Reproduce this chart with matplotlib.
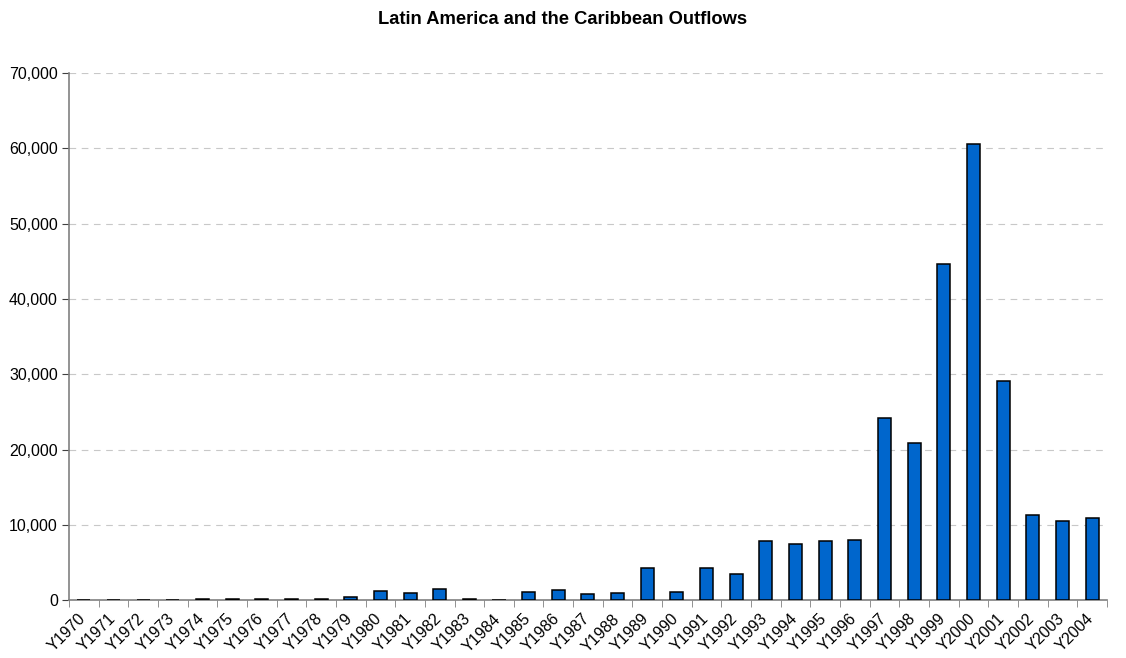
import numpy as np
import matplotlib.pyplot as plt
import matplotlib.transforms as mtransforms
from matplotlib.ticker import FuncFormatter, MultipleLocator, FixedLocator

plt.rcParams['font.family'] = ['Liberation Sans', 'DejaVu Sans']

# outflows by year
years = [f"Y{y}" for y in range(1970, 2005)]
outflows = [20, 0, 50, 20, 100, 200, 200, 200, 200, 350,
            1200, 900, 1450, 100, 50, 1100, 1300, 800, 900, 4250,
            1100, 4200, 3400, 7800, 7400, 7800, 8000, 24200, 20900, 44600,
            60600, 29100, 11300, 10500, 10900]

fig = plt.figure(figsize=(11.26, 6.58), dpi=100, facecolor="white")
ax = fig.add_axes([0.0613, 0.088, 0.9217, 0.801])

x = np.arange(len(years))
ax.bar(x, outflows, width=0.44, color="#0066CC", edgecolor="black", linewidth=1.1, zorder=3)

ax.set_xlim(-0.5, len(years) - 0.5)
ax.set_ylim(0, 70000)
ax.yaxis.set_major_locator(MultipleLocator(10000))
ax.yaxis.set_major_formatter(FuncFormatter(lambda v, p: f"{int(v):,}"))
ax.grid(axis="y", color="#c8c8c8", linestyle=(0, (6, 5)), linewidth=0.8, zorder=0)

# labels centred on bars, ticks on category boundaries
ax.set_xticks(x)
ax.set_xticklabels(years, rotation=45, ha="right", rotation_mode="anchor", fontsize=11.5)
ax.tick_params(axis="x", which="major", length=0, pad=8)
shift = mtransforms.ScaledTranslation(-6 / 100, 0, fig.dpi_scale_trans)
for lbl in ax.get_xticklabels():
    lbl.set_transform(lbl.get_transform() + shift)
ax.xaxis.set_minor_locator(FixedLocator(np.arange(-0.5, len(years), 1.0)))
ax.tick_params(axis="x", which="minor", length=5, color="#808080", direction="out")
ax.tick_params(axis="y", length=5, color="#404040", labelsize=11.5, pad=3)

for s in ["top", "right"]:
    ax.spines[s].set_visible(False)
ax.spines["left"].set_color("#808080")
ax.spines["bottom"].set_color("#808080")
ax.spines["left"].set_linewidth(1.2)
ax.spines["bottom"].set_linewidth(1.2)

fig.text(0.5, 0.97, "Latin America and the Caribbean Outflows", ha="center", va="center",
         fontsize=13.2, fontweight="bold")

fig.savefig("out.png", dpi=100, facecolor="white")
